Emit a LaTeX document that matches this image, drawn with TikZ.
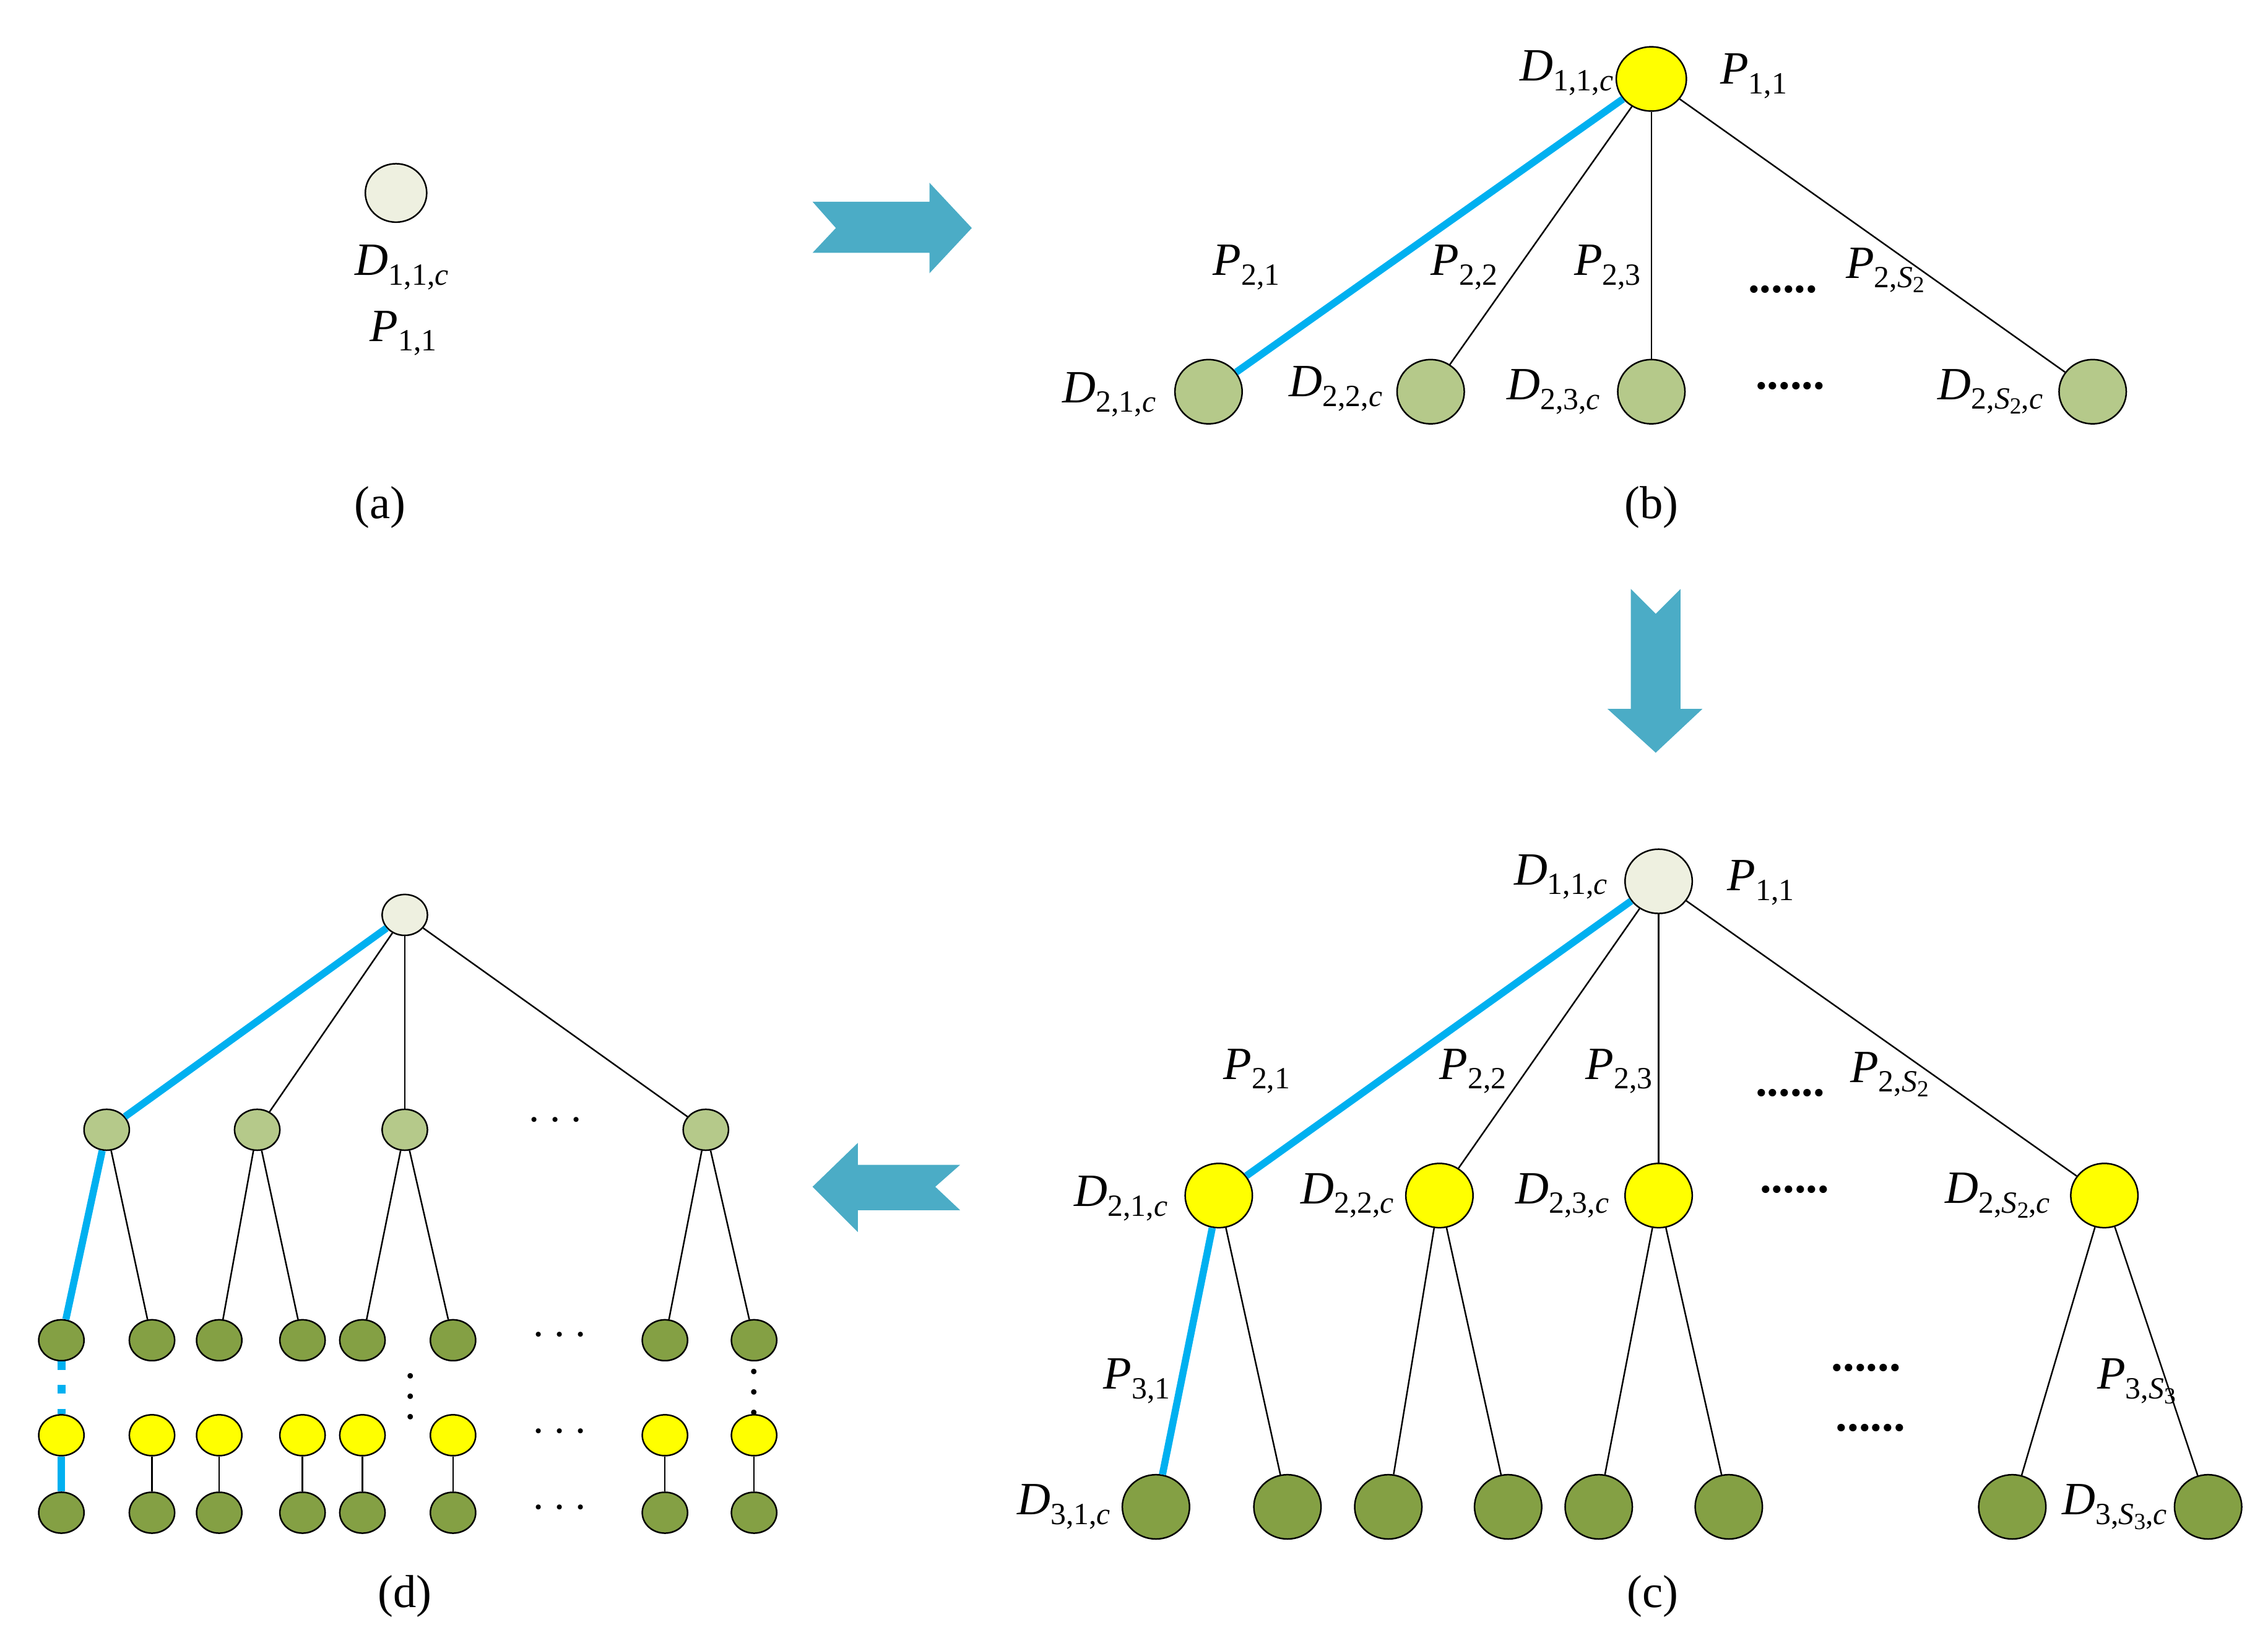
\documentclass[tikz,border=0pt]{standalone}
\usepackage{fontspec}
\setmainfont{Liberation Serif}
\usetikzlibrary{shapes.geometric}
\definecolor{light}{HTML}{EEF0E0}
\definecolor{olive}{HTML}{B5C98A}
\definecolor{dark}{HTML}{84A044}
\definecolor{yel}{HTML}{FFFF00}
\definecolor{blu}{HTML}{00B0F0}
\definecolor{arr}{HTML}{4BACC6}
\newcommand\lbl[2]{\textit{#1}\raisebox{-0.45ex}{\fontsize{6}{6}\selectfont #2}}
\newcommand\ssub[1]{\textit{S}\raisebox{-0.35ex}{\fontsize{4.5}{4.5}\selectfont #1}}
\begin{document}
\begin{tikzpicture}[x=0.1mm,y=-0.1mm,
 big/.style={ellipse,draw=black,line width=0.3pt,minimum width=4.6mm,minimum height=4.4mm,inner sep=0},
 sm/.style={ellipse,draw=black,line width=0.3pt,minimum width=3.1mm,minimum height=2.8mm,inner sep=0},
 ed/.style={line width=0.3pt},
 be/.style={blu,line width=1.4pt},
 lb/.style={font=\fontsize{9}{10}\selectfont,inner sep=0},
 dt/.style={font=\fontsize{9}{10}\selectfont\bfseries,inner sep=0},
 vd/.style={font=\fontsize{6.5}{6.5}\selectfont\bfseries,inner sep=0}]
\useasboundingbox (0,0) rectangle (1552,1115);
% (a)
\node[big,fill=light,minimum width=4.2mm,minimum height=4mm] (a0) at (271,132) {};
\node[lb] (a1) at (275,183) {\lbl{D}{1,1,\textit{c}}};
\node[lb] (a2) at (276,228) {\lbl{P}{1,1}};
\node[lb] (a3) at (260,347) {(a)};
% arrows
\fill[arr] (556,138) -- (636,138) -- (636,125) -- (665,156) -- (636,187) -- (636,173) -- (556,173) -- (572,156) -- cycle;
\fill[arr] (1116,403) -- (1133,420) -- (1150,403) -- (1150,485) -- (1165,485) -- (1133,515) -- (1100,485) -- (1116,485) -- cycle;
\fill[arr] (556,812) -- (587,782) -- (587,797) -- (657,797) -- (640,812) -- (657,828) -- (587,828) -- (587,843) -- cycle;
% (b)
\node[big,fill=yel,minimum width=4.8mm] (b0) at (1130,54) {};
\foreach \i/\x in {1/827,2/979,3/1130,4/1432}{\node[big,fill=olive] (b\i) at (\x,268) {};}
\draw[ed] (b0)--(b2); \draw[ed] (b0)--(b3); \draw[ed] (b0)--(b4);
\draw[be] (b0)--(b1);
\node[lb] at (1072,50) {\lbl{D}{1,1,\textit{c}}};
\node[lb] at (1200,52) {\lbl{P}{1,1}};
\node[lb] at (853,183) {\lbl{P}{2,1}};
\node[lb] at (1002,183) {\lbl{P}{2,2}};
\node[lb] at (1100,183) {\lbl{P}{2,3}};
\node[dt] at (1220,198) {......};
\node[lb] at (1290,185) {\lbl{P}{2,\ssub{2}}};
\node[lb] at (759,270) {\lbl{D}{2,1,\textit{c}}};
\node[lb] at (914,266) {\lbl{D}{2,2,\textit{c}}};
\node[lb] at (1063,268) {\lbl{D}{2,3,\textit{c}}};
\node[dt] at (1225,264) {......};
\node[lb] at (1362,268) {\lbl{D}{2,\ssub{2},\textit{c}}};
\node[lb] at (1130,347) {(b)};
% (c)
\node[big,fill=light] (c0) at (1135,603) {};
\foreach \i/\x in {1/834,2/985,3/1135,4/1440}{\node[big,fill=yel] (c\i) at (\x,818) {};}
\foreach \i/\x in {1/791,2/881,3/950,4/1032,5/1094,6/1183,7/1377,8/1511}{\node[big,fill=dark] (cc\i) at (\x,1031) {};}
\draw[ed] (c0)--(c2); \draw[ed] (c0)--(c3); \draw[ed] (c0)--(c4);
\draw[be] (c0)--(c1);
\draw[ed] (c1)--(cc2); \draw[ed] (c2)--(cc3); \draw[ed] (c2)--(cc4);
\draw[ed] (c3)--(cc5); \draw[ed] (c3)--(cc6); \draw[ed] (c4)--(cc7); \draw[ed] (c4)--(cc8);
\draw[be] (c1)--(cc1);
\node[lb] at (1068,600) {\lbl{D}{1,1,\textit{c}}};
\node[lb] at (1205,604) {\lbl{P}{1,1}};
\node[lb] at (860,733) {\lbl{P}{2,1}};
\node[lb] at (1008,733) {\lbl{P}{2,2}};
\node[lb] at (1108,733) {\lbl{P}{2,3}};
\node[dt] at (1225,748) {......};
\node[lb] at (1293,735) {\lbl{P}{2,\ssub{2}}};
\node[lb] at (767,820) {\lbl{D}{2,1,\textit{c}}};
\node[lb] at (922,818) {\lbl{D}{2,2,\textit{c}}};
\node[lb] at (1069,818) {\lbl{D}{2,3,\textit{c}}};
\node[dt] at (1228,814) {......};
\node[lb] at (1367,818) {\lbl{D}{2,\ssub{2},\textit{c}}};
\node[lb] at (778,945) {\lbl{P}{3,1}};
\node[lb] at (1462,945) {\lbl{P}{3,\ssub{3}}};
\node[dt] at (1277,936) {......};
\node[dt] at (1280,977) {......};
\node[lb] at (728,1031) {\lbl{D}{3,1,\textit{c}}};
\node[lb] at (1447,1031) {\lbl{D}{3,\ssub{3},\textit{c}}};
\node[lb] at (1131,1092) {(c)};
% (d)
\node[sm,fill=light] (d0) at (277,626) {};
\foreach \i/\x in {1/73,2/176,3/277,4/483}{\node[sm,fill=olive] (d\i) at (\x,773) {};}
\draw[ed] (d0)--(d2); \draw[ed] (d0)--(d3); \draw[ed] (d0)--(d4);
\draw[be] (d0)--(d1);
\foreach \i/\x in {1/42,2/104,3/150,4/207,5/248,6/310,7/455,8/516}{
 \node[sm,fill=dark] (e\i) at (\x,917) {};
 \node[sm,fill=yel] (f\i) at (\x,982) {};
 \node[sm,fill=dark] (g\i) at (\x,1035) {};}
\foreach \i in {2,...,8}{\draw[ed] (f\i)--(g\i);}
\draw[be] (f1)--(g1);
\draw[be,line width=1.6pt,dash pattern=on 1.6pt off 3pt] (e1)--(f1);
\draw[ed] (d1)--(e2); \draw[ed] (d2)--(e3); \draw[ed] (d2)--(e4);
\draw[ed] (d3)--(e5); \draw[ed] (d3)--(e6); \draw[ed] (d4)--(e7); \draw[ed] (d4)--(e8);
\draw[be] (d1)--(e1);
\node[dt] at (380,767) {$\cdots$};
\node[dt] at (383,914) {$\cdots$};
\node[dt] at (383,980) {$\cdots$};
\node[dt] at (383,1032) {$\cdots$};
\node[vd] at (281,945) {$\vdots$};
\node[vd] at (516,942) {$\vdots$};
\node[lb] at (277,1092) {(d)};
\end{tikzpicture}
\end{document}
